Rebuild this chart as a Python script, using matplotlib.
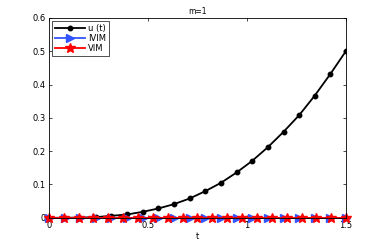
import numpy as np
import matplotlib
matplotlib.use("Agg")
import matplotlib.pyplot as plt

# data
t_exact = np.linspace(0, 1.5, 20)
u_exact = [0.0, 0.0002, 0.0008, 0.002, 0.006, 0.010, 0.018, 0.028, 0.041, 0.058,
           0.080, 0.105, 0.136, 0.171, 0.212, 0.258, 0.308, 0.367, 0.432, 0.501]
t_ivim = np.linspace(0, 1.5, 20)
u_ivim = [0.0] * 20
t_vim = np.linspace(0, 1.5, 21)
u_vim = [0.0] * 21

xticks = [0, 0.5, 1, 1.5]
xticklabels = ["0", "0.5", "1", "1.5"]
yticks = [0, 0.1, 0.2, 0.3, 0.4, 0.5, 0.6]
yticklabels = ["0", "0.1", "0.2", "0.3", "0.4", "0.5", "0.6"]

plt.rcParams['font.family'] = ['DejaVu Sans']
fig = plt.figure(figsize=(3.82, 2.45), dpi=100)
ax = fig.add_axes([0.128, 0.111, 0.778, 0.816])

ax.plot(t_exact, u_exact, color='black', lw=1.3, marker='o', ms=3.2, label='u (t)')
ax.plot(t_ivim, u_ivim, color='#3355ff', lw=1.3, marker='>', ms=5.5, label='IVIM',
        clip_on=False)
ax.plot(t_vim, u_vim, color='red', lw=1.3, marker='*', ms=7, label='VIM', clip_on=False)

ax.set_xlim(0, 1.5)
ax.set_ylim(0, 0.6)
ax.set_xticks(xticks)
ax.set_xticklabels(xticklabels)
ax.set_yticks(yticks)
ax.set_yticklabels(yticklabels)
ax.tick_params(direction='in', length=2.5, width=0.5, labelsize=6, pad=2,
               top=True, right=True)
for s in ax.spines.values():
    s.set_linewidth(0.6)
ax.set_xlabel('t', fontsize=6, labelpad=2)
ax.set_title('m=1', fontsize=5.5, pad=3)

leg = ax.legend(loc='upper left', fontsize=6, frameon=True, fancybox=False,
                edgecolor='black', handlelength=3.6, borderpad=0.3,
                labelspacing=0.15, handletextpad=0.4, borderaxespad=0.4)
leg.get_frame().set_linewidth(0.6)

fig.savefig('out.png', dpi=100)
